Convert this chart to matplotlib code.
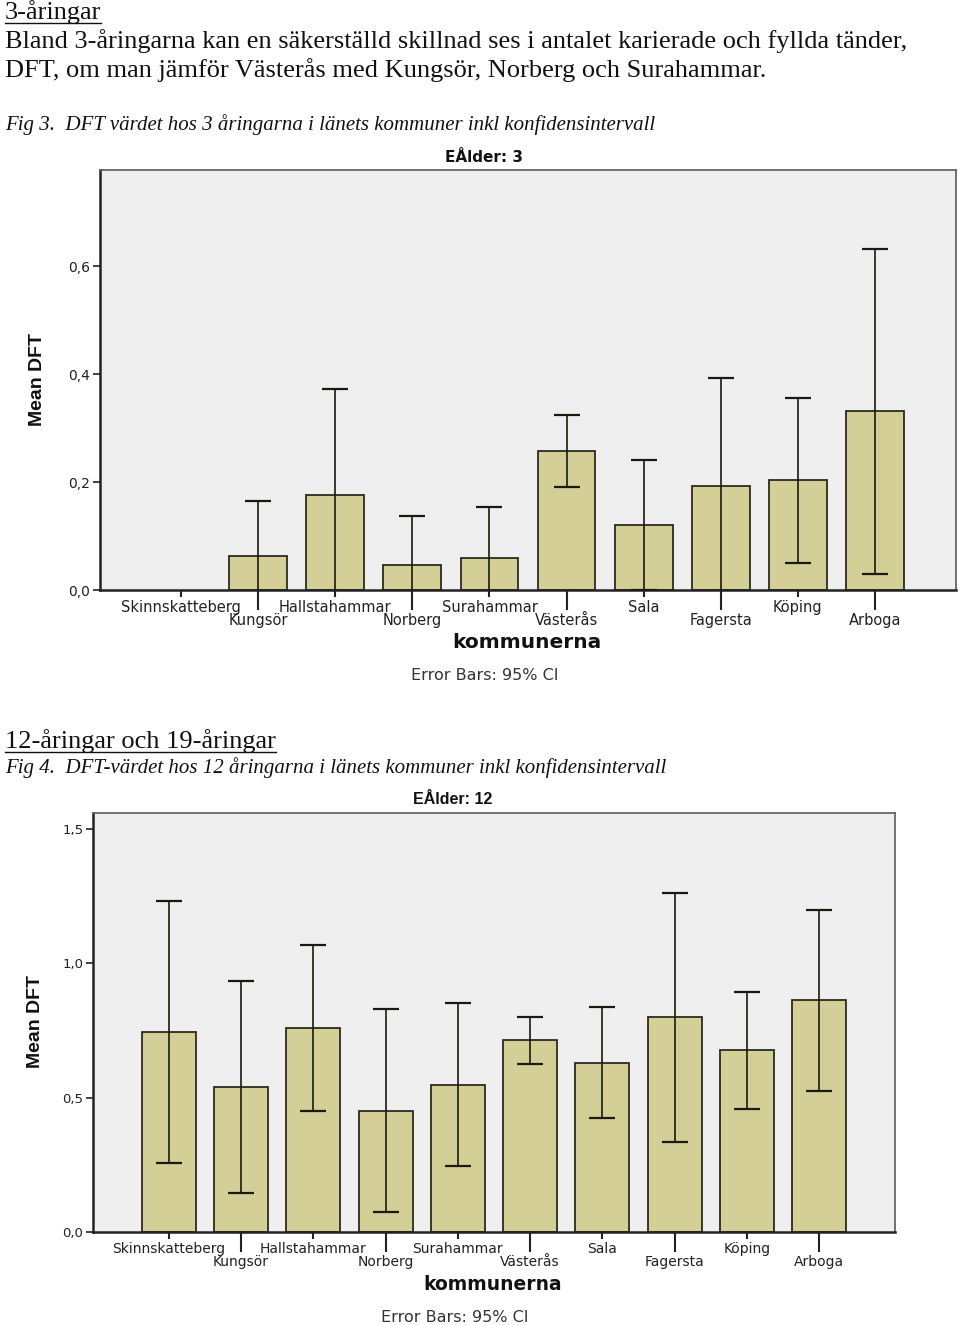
import numpy as np
import matplotlib
matplotlib.use("Agg")
import matplotlib.pyplot as plt
from matplotlib.lines import Line2D
from matplotlib.ticker import FuncFormatter

kommuner = ["Skinnskatteberg", "Kungsör", "Hallstahammar", "Norberg", "Surahammar",
            "Västerås", "Sala", "Fagersta", "Köping", "Arboga"]

# EÅlder 3: mean DFT and 95% CI
mean_3 = [0.0, 0.063, 0.176, 0.046, 0.059, 0.257, 0.120, 0.192, 0.203, 0.331]
ci_low_3 = [0.0, -0.039, -0.020, -0.046, -0.036, 0.191, 0.000, -0.009, 0.050, 0.030]
ci_high_3 = [0.0, 0.165, 0.372, 0.138, 0.154, 0.324, 0.240, 0.393, 0.356, 0.631]

# EÅlder 12
mean_12 = [0.742, 0.539, 0.760, 0.451, 0.548, 0.713, 0.630, 0.799, 0.677, 0.861]
ci_low_12 = [0.256, 0.144, 0.451, 0.075, 0.244, 0.625, 0.424, 0.336, 0.458, 0.523]
ci_high_12 = [1.229, 0.932, 1.068, 0.828, 0.853, 0.799, 0.835, 1.261, 0.892, 1.197]

yticks_3 = [0.0, 0.2, 0.4, 0.6]
yticks_12 = [0.0, 0.5, 1.0, 1.5]

BAR = "#d3cf97"
BG = "#efefef"
W, H = 960, 1325

fig = plt.figure(figsize=(W / 100, H / 100), dpi=100)


def px_ax(left, top, right, bottom):
    return fig.add_axes([left / W, 1 - bottom / H, (right - left) / W, (bottom - top) / H])


def draw_chart(ax, mean, lo, hi, ymax, yticks, tick_fs):
    x = np.arange(len(kommuner))
    mean = np.array(mean)
    lo = np.array(lo)
    hi = np.array(hi)
    ax.set_facecolor(BG)
    show = mean > 0
    ax.bar(x[show], mean[show], width=0.75, color=BAR, edgecolor="#2b2b1e", linewidth=1.3, zorder=2)
    yerr = np.vstack([mean - lo, hi - mean])
    ax.errorbar(x[show], mean[show], yerr=yerr[:, show], fmt="none", ecolor="#1a1a10",
                elinewidth=1.2, capsize=9.5, capthick=1.6, zorder=3)
    ax.set_xlim(-1.05, len(kommuner) - 1 + 1.05)
    ax.set_ylim(0, ymax)
    ax.set_yticks(yticks)
    ax.yaxis.set_major_formatter(FuncFormatter(lambda v, p: f"{v:.1f}".replace(".", ",")))
    ax.tick_params(axis="y", length=5, width=1.2, pad=2, labelsize=tick_fs - 0.5, colors="#222222")
    ax.set_xticks(x[::2])
    ax.set_xticklabels(kommuner[::2])
    ax.set_xticks(x[1::2], minor=True)
    ax.set_xticklabels(kommuner[1::2], minor=True)
    ax.tick_params(axis="x", which="major", length=5, width=1.5, pad=2, labelsize=tick_fs, colors="#222222")
    ax.tick_params(axis="x", which="minor", length=14.5, width=1.5, pad=2, labelsize=tick_fs, colors="#222222")
    for s in ["left", "bottom"]:
        ax.spines[s].set_color("#222222")
        ax.spines[s].set_linewidth(1.8)
    for s in ["top", "right"]:
        ax.spines[s].set_color("#666666")
        ax.spines[s].set_linewidth(1.3)


# Chart 1
ax1 = px_ax(100, 170, 956, 590)
draw_chart(ax1, mean_3, ci_low_3, ci_high_3, 0.778, yticks_3, 10.5)
# Chart 2
ax2 = px_ax(93, 813, 895, 1232)
draw_chart(ax2, mean_12, ci_low_12, ci_high_12, 1.558, yticks_12, 10)

fig.text(484 / W, 1 - 157 / H, "EÅlder: 3", ha="center", va="center", fontsize=11,
         fontweight="bold", family="DejaVu Sans", color="#111111")
fig.text(453 / W, 1 - 800 / H, "EÅlder: 12", ha="center", va="center", fontsize=11.5,
         fontweight="bold", family="Liberation Sans", color="#111111")

sans_b = dict(fontweight="bold", family="Liberation Sans", color="#111111")
fig.text(37 / W, 1 - 380 / H, "Mean DFT", rotation=90, ha="center", va="center", fontsize=14, **sans_b)
fig.text(35 / W, 1 - 1022 / H, "Mean DFT", rotation=90, ha="center", va="center", fontsize=14, **sans_b)
fig.text(527 / W, 1 - 642 / H, "kommunerna", ha="center", va="center", fontsize=14.5,
         fontweight="bold", family="DejaVu Sans", color="#111111")
fig.text(493 / W, 1 - 1284 / H, "kommunerna", ha="center", va="center", fontsize=13.5,
         fontweight="bold", family="DejaVu Sans", color="#111111")
fig.text(485 / W, 1 - 676 / H, "Error Bars: 95% CI", ha="center", va="center", fontsize=11.5,
         family="DejaVu Sans", color="#333333")
fig.text(455 / W, 1 - 1317 / H, "Error Bars: 95% CI", ha="center", va="center", fontsize=11.5,
         family="DejaVu Sans", color="#333333")

# document text around the charts
serif = dict(family="Liberation Serif", color="#111111")
h1 = fig.text(5 / W, 1 - 12 / H, "3-åringar", ha="left", va="center", fontsize=19, **serif)
fig.text(5 / W, 1 - 41 / H,
         "Bland 3-åringarna kan en säkerställd skillnad ses i antalet karierade och fyllda tänder,",
         ha="left", va="center", fontsize=19, **serif)
fig.text(5 / W, 1 - 70 / H, "DFT, om man jämför Västerås med Kungsör, Norberg och Surahammar.",
         ha="left", va="center", fontsize=19, **serif)
fig.text(5 / W, 1 - 125 / H,
         "Fig 3.  DFT värdet hos 3 åringarna i länets kommuner inkl konfidensintervall",
         ha="left", va="center", fontsize=15, style="italic", **serif)
h2 = fig.text(5 / W, 1 - 741 / H, "12-åringar och 19-åringar", ha="left", va="center", fontsize=19, **serif)
fig.text(5 / W, 1 - 768 / H,
         "Fig 4.  DFT-värdet hos 12 åringarna i länets kommuner inkl konfidensintervall",
         ha="left", va="center", fontsize=15, style="italic", **serif)

# underline the headings
fig.canvas.draw()
r = fig.canvas.get_renderer()
for t in (h1, h2):
    bb = t.get_window_extent(r)
    yl = bb.y0 + 1
    fig.add_artist(Line2D([bb.x0 / W, bb.x1 / W], [yl / H, yl / H], color="#111111", linewidth=1.0))

fig.savefig("out.png", dpi=100, facecolor="white")
